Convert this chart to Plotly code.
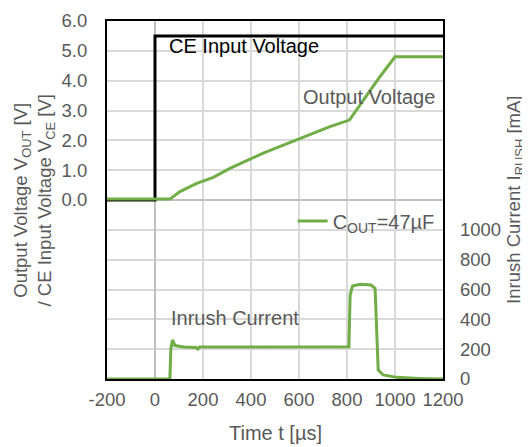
import plotly.graph_objects as go

# CE input voltage (V)
t_ce = [-200, 0, 0, 1200]
v_ce = [0.0, 0.0, 5.5, 5.5]

# Output voltage (V)
t_vout = [-200, 62, 104, 174, 243, 312, 451, 590, 729, 810, 868, 938, 1000, 1200]
v_out = [0.03, 0.03, 0.28, 0.56, 0.76, 1.06, 1.57, 2.01, 2.46, 2.68, 3.36, 4.14, 4.80, 4.80]

# Inrush current (mA)
t_irush = [-200, 62, 66, 73, 83, 120, 170, 178, 185, 300, 500, 700, 808, 813, 823,
           854, 900, 917, 922, 930, 951, 1007, 1100, 1200]
i_rush = [0, 0, 200, 262, 224, 215, 212, 200, 214, 215, 215, 217, 217, 560, 624,
          635, 630, 608, 400, 60, 27, 11, 4, 0]

x_ticks = [-200, 0, 200, 400, 600, 800, 1000, 1200]
x_ticktext = ["-200", "0", "200", "400", "600", "800", "1000", "1200"]
v_ticks = [0, 1, 2, 3, 4, 5, 6]
v_ticktext = ["0.0", "1.0", "2.0", "3.0", "4.0", "5.0", "6.0"]
i_ticks = [0, 200, 400, 600, 800, 1000]

GREEN = "#70ad47"
GRAY = "#595959"
FONT = "Liberation Sans, Arial, sans-serif"
FS = 18.5
FA = 20

fig = go.Figure()
fig.add_trace(go.Scatter(x=t_ce, y=v_ce, mode="lines", line=dict(color="black", width=3),
                         showlegend=False, yaxis="y"))
fig.add_trace(go.Scatter(x=t_vout, y=v_out, mode="lines", line=dict(color=GREEN, width=3),
                         name="C<sub>OUT</sub>=47µF", showlegend=True, yaxis="y"))
fig.add_trace(go.Scatter(x=t_irush, y=i_rush, mode="lines", line=dict(color=GREEN, width=3),
                         showlegend=False, yaxis="y2"))

grid = "#d9d9d9"
# page body has an 8px margin, so the figure is 8px smaller and margins compensate
fig.update_layout(
    width=522, height=439, autosize=False,
    margin=dict(l=99, r=87, t=13, b=68, autoexpand=False),
    paper_bgcolor="white", plot_bgcolor="white",
    font=dict(family=FONT, size=FS, color=GRAY),
    xaxis=dict(range=[-200, 1200], tickvals=x_ticks, ticktext=x_ticktext, showgrid=True,
               gridcolor=grid, gridwidth=1.5, automargin=False,
               zeroline=True, zerolinecolor="#bfbfbf", zerolinewidth=1.5,
               showline=True, linecolor="black", linewidth=2, mirror=True,
               ticks="", ticklabelstandoff=3, tickfont=dict(size=FS, color=GRAY)),
    yaxis=dict(range=[-6, 6], tickvals=v_ticks, ticktext=v_ticktext, showgrid=True, automargin=False,
               gridcolor=grid, gridwidth=1.5, zeroline=True, zerolinecolor="#bfbfbf", zerolinewidth=1.5,
               showline=True, linecolor="black", linewidth=2, mirror=True,
               ticks="", ticklabelstandoff=14, tickfont=dict(size=FS, color=GRAY)),
    yaxis2=dict(range=[0, 2400], tickvals=i_ticks, overlaying="y", side="right", showgrid=True,
                gridcolor=grid, gridwidth=1.5, zeroline=False, showline=False, automargin=False,
                ticks="", ticklabelstandoff=16, tickfont=dict(size=FS, color=GRAY)),
    legend=dict(x=0.99, y=0.441, xanchor="right", yanchor="middle", bgcolor="rgba(0,0,0,0)",
                font=dict(size=FA, color=GRAY)),
    annotations=[
        dict(text="CE Input Voltage", x=50, y=5.16, xref="x", yref="y", xanchor="left",
             yanchor="middle", showarrow=False, font=dict(size=FA, color="black")),
        dict(text="Output Voltage", x=1175, y=3.45, xref="x", yref="y", xanchor="right",
             yanchor="middle", showarrow=False, font=dict(size=FA, color=GRAY)),
        dict(text="Inrush Current", x=58, y=-3.96, xref="x", yref="y", xanchor="left",
             yanchor="middle", showarrow=False, font=dict(size=FA, color=GRAY)),
        dict(text="Time t [µs]", x=0.5, y=-0.151, xref="paper", yref="paper", xanchor="center",
             yanchor="middle", showarrow=False, font=dict(size=FA, color=GRAY)),
        dict(text="Output Voltage V<sub>OUT</sub> [V]<br>/ CE Input Voltage V<sub>CE</sub> [V]",
             x=-0.216, y=0.5, xref="paper", yref="paper", xanchor="center", yanchor="middle",
             textangle=-90, showarrow=False, font=dict(size=FS, color=GRAY)),
        dict(text="Inrush Current I<sub>RUSH</sub> [mA]", x=1.214, y=0.5, xref="paper",
             yref="paper", xanchor="center", yanchor="middle", textangle=-90, showarrow=False,
             font=dict(size=FS, color=GRAY)),
    ],
)

fig.write_html("out.html")
